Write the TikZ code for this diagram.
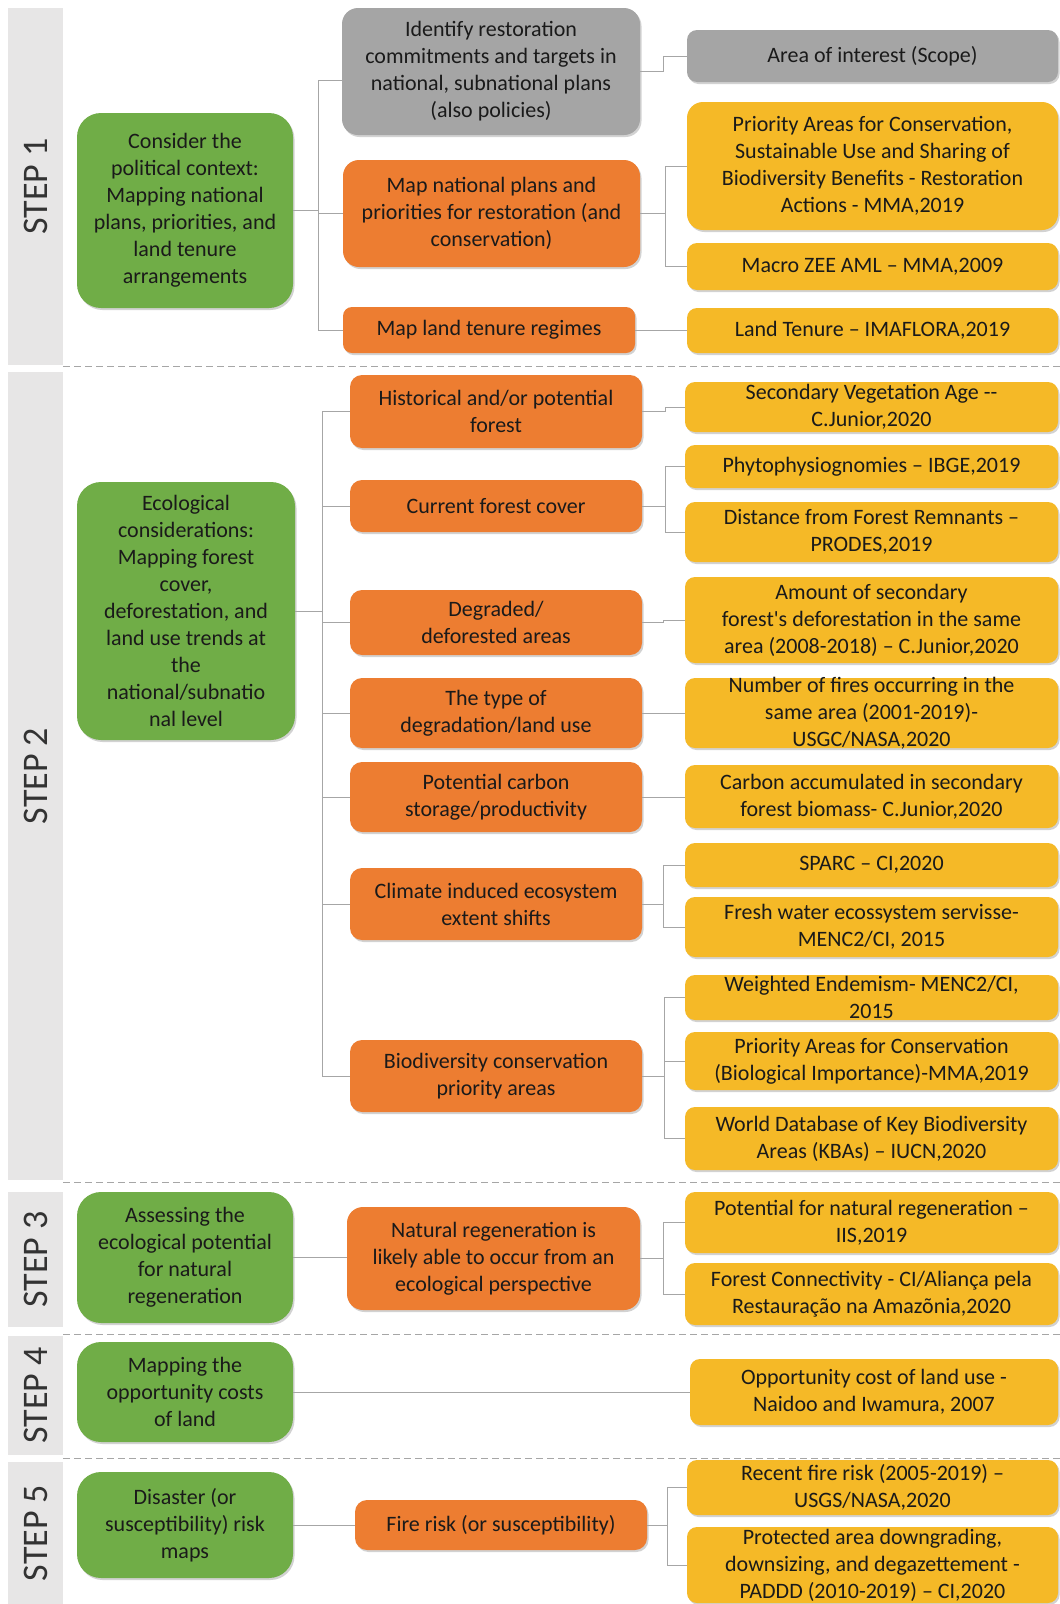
\documentclass[tikz,border=0pt]{standalone}
\usepackage{fontspec}
\setmainfont{Carlito}
\usetikzlibrary{shadows}
\definecolor{stepgreen}{HTML}{70AD47}
\definecolor{steporange}{HTML}{ED7D31}
\definecolor{stepgold}{HTML}{F5B927}
\definecolor{stepgray}{HTML}{A5A5A5}
\definecolor{bandgray}{HTML}{E7E6E6}
\definecolor{linegray}{HTML}{A6A6A6}
\definecolor{txt}{HTML}{1A1A1A}
\newcommand\bt[3]{\parbox[c][#2pt][c]{#1pt}{\centering #3}}
\tikzset{
  boxbase/.style={inner sep=0pt, outer sep=0pt, text=txt, font=\fontsize{22}{27}\selectfont,
    drop shadow={opacity=0.35, shadow xshift=1.5pt, shadow yshift=-2pt}},
  greenbox/.style={boxbase, fill=stepgreen, rounded corners=24pt},
  orangebox/.style={boxbase, fill=steporange, rounded corners=12pt},
  goldbox/.style={boxbase, fill=stepgold, rounded corners=10pt},
  graybox/.style={boxbase, fill=stepgray, rounded corners=16pt},
  band/.style={fill=bandgray, inner sep=0pt, minimum height=55pt, rotate=90, text=black!80,
    font=\fontsize{36}{40}\selectfont},
  conn/.style={draw=linegray, line width=1pt},
  sepline/.style={draw=linegray, line width=1pt, dash pattern=on 7pt off 4pt}
}
\begin{document}
\begin{tikzpicture}[x=1pt,y=-1pt]
\fill[white] (0,0) rectangle (1060,1604);
\useasboundingbox (0,0) rectangle (1060,1604);

% step bands
\node[band, minimum width=357pt] (s1) at (35.5,186.5) {STEP 1};
\node[band, minimum width=808pt] (s2) at (35.5,776) {STEP 2};
\node[band, minimum width=135pt] (s3) at (35.5,1259.5) {STEP 3};
\node[band, minimum width=119pt] (s4) at (35.5,1395.5) {STEP 4};
\node[band, minimum width=142pt] (s5) at (35.5,1533) {STEP 5};

% separators
\draw[sepline] (63,366) -- (1060,366);
\draw[sepline] (63,1182) -- (1060,1182);
\draw[sepline] (63,1334) -- (1060,1334);
\draw[sepline] (63,1458) -- (1060,1458);

% green boxes
\node[greenbox] (g1) at (185,210.5) {\bt{216}{195}{Consider the\\political context:\\Mapping national\\plans, priorities, and\\land tenure\\arrangements}};
\node[greenbox] (g2) at (186,611) {\bt{218}{258}{Ecological\\considerations:\\Mapping forest\\cover,\\deforestation, and\\land use trends at\\the\\national/subnatio\\nal level}};
\node[greenbox] (g3) at (185,1257.5) {\bt{216}{131}{Assessing the\\ecological potential\\for natural\\regeneration}};
\node[greenbox] (g4) at (185,1392) {\bt{216}{100}{Mapping the\\opportunity costs\\of land}};
\node[greenbox] (g5) at (185,1525) {\bt{216}{106}{Disaster (or\\susceptibility) risk\\maps}};

% middle column
\node[graybox] (a1) at (491,71.5) {\bt{298}{127}{Identify restoration\\commitments and targets in\\national, subnational plans\\(also policies)}};
\node[orangebox, rounded corners=16pt] (a2) at (491.5,213.5) {\bt{297}{107}{Map national plans and\\priorities for restoration (and\\conservation)}};
\node[orangebox, rounded corners=9pt] (a3) at (489,330) {\bt{292}{46}{Map land tenure regimes}};

\node[orangebox] (b1) at (496,411.5) {\bt{292}{73}{Historical and/or potential\\forest}};
\node[orangebox] (b2) at (496,506) {\bt{292}{52}{Current forest cover}};
\node[orangebox] (b3) at (496,622.5) {\bt{292}{65}{Degraded/\\deforested areas}};
\node[orangebox] (b4) at (496,713) {\bt{292}{70}{The type of\\degradation/land use}};
\node[orangebox] (b5) at (496,797) {\bt{292}{70}{Potential carbon\\storage/productivity}};
\node[orangebox] (b6) at (496,904) {\bt{292}{72}{Climate induced ecosystem\\extent shifts}};
\node[orangebox] (b7) at (496,1076) {\bt{292}{72}{Biodiversity conservation\\priority areas}};

\node[orangebox, rounded corners=16pt] (c1) at (493.5,1258.5) {\bt{293}{103}{Natural regeneration is\\likely able to occur from an\\ecological perspective}};
\node[orangebox] (e1) at (501,1525) {\bt{292}{50}{Fire risk (or susceptibility)}};

% right column
\node[graybox, rounded corners=10pt] (y1) at (872.5,56) {\bt{371}{52}{Area of interest (Scope)}};
\node[goldbox, rounded corners=16pt] (y2) at (872.5,166) {\bt{371}{128}{Priority Areas for Conservation,\\Sustainable Use and Sharing of\\Biodiversity Benefits - Restoration\\Actions - MMA,2019}};
\node[goldbox] (y3) at (872.5,266.5) {\bt{371}{47}{Macro ZEE AML – MMA,2009}};
\node[goldbox] (y4) at (872.5,330.5) {\bt{371}{45}{Land Tenure – IMAFLORA,2019}};

\node[goldbox] (y5) at (871.5,407) {\bt{373}{50}{Secondary Vegetation Age -{}-\\C.Junior,2020}};
\node[goldbox] (y6) at (871.5,466.5) {\bt{373}{43}{Phytophysiognomies – IBGE,2019}};
\node[goldbox] (y7) at (871.5,532) {\bt{373}{60}{Distance from Forest Remnants –\\PRODES,2019}};
\node[goldbox] (y8) at (871.5,620) {\bt{373}{86}{Amount of secondary\\forest\textquotesingle s deforestation in the same\\area (2008-2018) – C.Junior,2020}};
\node[goldbox] (y9) at (871.5,713) {\bt{373}{70}{Number of fires occurring in the\\same area (2001-2019)-\\USGC/NASA,2020}};
\node[goldbox] (y10) at (871.5,796.5) {\bt{373}{63}{Carbon accumulated in secondary\\forest biomass- C.Junior,2020}};
\node[goldbox] (y11) at (871.5,865) {\bt{373}{44}{SPARC – CI,2020}};
\node[goldbox] (y12) at (871.5,927) {\bt{373}{60}{Fresh water ecossystem servisse-\\MENC2/CI, 2015}};
\node[goldbox] (y13) at (871.5,997.5) {\bt{373}{45}{Weighted Endemism- MENC2/CI,\\2015}};
\node[goldbox] (y14) at (871.5,1061) {\bt{373}{58}{Priority Areas for Conservation\\(Biological Importance)-MMA,2019}};
\node[goldbox] (y15) at (871.5,1138.5) {\bt{373}{63}{World Database of Key Biodiversity\\Areas (KBAs) – IUCN,2020}};

\node[goldbox] (y16) at (871.5,1222.5) {\bt{373}{61}{Potential for natural regeneration –\\IIS,2019}};
\node[goldbox] (y17) at (871.5,1294) {\bt{373}{62}{Forest Connectivity - CI/Aliança pela\\Restauração na Amazõnia,2020}};

\node[goldbox] (y18) at (874,1392) {\bt{368}{66}{Opportunity cost of land use -\\Naidoo and Iwamura, 2007}};

\node[goldbox] (y19) at (872.5,1487.5) {\bt{371}{55}{Recent fire risk (2005-2019) –\\USGS/NASA,2020}};
\node[goldbox] (y20) at (872.5,1565) {\bt{371}{76}{Protected area downgrading,\\downsizing, and degazettement -\\PADDD (2010-2019) – CI,2020}};

% connectors step 1
\draw[conn] (g1.east) -- ++(25,0) coordinate (j1);
\draw[conn] (j1) |- ([yshift=-8.5pt]a1.west);
\draw[conn] (j1) |- (a2.west);
\draw[conn] (j1) |- (a3.west);
\draw[conn] (a1.east) -- ++(23,0) |- (y1.west);
\draw[conn] (a2.east) -- ++(25,0) coordinate (j2);
\draw[conn] (j2) |- (y2.west);
\draw[conn] (j2) |- (y3.west);
\draw[conn] (a3.east) -- (a3.east -| y4.west);

% connectors step 2
\draw[conn] (g2.east) -- ++(27,0) coordinate (j3);
\foreach \n in {b1,b2,b3,b4,b5,b6,b7} \draw[conn] (j3) |- (\n.west);
\draw[conn] (b1.east) -- ++(23,0) |- (y5.west);
\draw[conn] (b2.east) -- ++(23,0) coordinate (j4);
\draw[conn] (j4) |- (y6.west);
\draw[conn] (j4) |- (y7.west);
\draw[conn] (b3.east) -- ++(21,0) |- (y8.west);
\draw[conn] (b4.east) -- (b4.east -| y9.west);
\draw[conn] (b5.east) -- (b5.east -| y10.west);
\draw[conn] (b6.east) -- ++(21,0) coordinate (j5);
\draw[conn] (j5) |- (y11.west);
\draw[conn] (j5) |- (y12.west);
\draw[conn] (b7.east) -- ++(22,0) coordinate (j6);
\draw[conn] (j6) |- (y13.west);
\draw[conn] (j6) |- (y14.west);
\draw[conn] (j6) |- (y15.west);

% connectors step 3-5
\draw[conn] (g3.east) -- (g3.east -| c1.west);
\draw[conn] (c1.east) -- ++(23,0) coordinate (j7);
\draw[conn] (j7) |- (y16.west);
\draw[conn] (j7) |- (y17.west);
\draw[conn] (g4.east) -- (g4.east -| y18.west);
\draw[conn] (g5.east) -- (g5.east -| e1.west);
\draw[conn] (e1.east) -- ++(20,0) coordinate (j8);
\draw[conn] (j8) |- (y19.west);
\draw[conn] (j8) |- (y20.west);
\end{tikzpicture}
\end{document}
